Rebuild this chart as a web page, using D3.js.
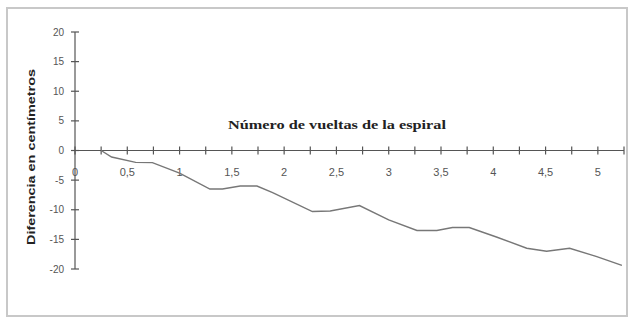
<!DOCTYPE html>
<html>
<head>
<meta charset="utf-8">
<script src="https://cdn.jsdelivr.net/npm/d3@7"></script>
<style>
  body { margin: 0; background: #fff; }
  svg { display: block; }
</style>
</head>
<body>
<svg id="chart" width="632" height="319"></svg>
<script>
// values
var vueltas = [0.25, 0.35, 0.58, 0.74, 1.0, 1.29, 1.41, 1.58, 1.74, 1.89, 2.27, 2.44, 2.72,
               3.0, 3.27, 3.46, 3.61, 3.77, 4.03, 4.32, 4.51, 4.73, 4.99, 5.23];
var diferencia = [0, -1.1, -2.0, -2.05, -3.8, -6.5, -6.5, -6.0, -6.0, -7.1, -10.3, -10.2, -9.3,
                  -11.7, -13.5, -13.5, -13.0, -13.0, -14.6, -16.5, -17.0, -16.5, -17.9, -19.4];
var yTicks = [20, 15, 10, 5, 0, -5, -10, -15, -20];
var xTicks = [0, 0.25, 0.5, 0.75, 1, 1.25, 1.5, 1.75, 2, 2.25, 2.5, 2.75, 3, 3.25, 3.5, 3.75,
              4, 4.25, 4.5, 4.75, 5, 5.25];
var xLabels = [0, 0.5, 1, 1.5, 2, 2.5, 3, 3.5, 4, 4.5, 5];
var titleX = 'Número de vueltas de la espiral',
    titleY = 'Diferencia en centímetros';

var svg = d3.select('#chart');
var fmt = function(d){ return String(d).replace('.', ','); };

// outer frame
svg.append('rect')
  .attr('x', 7).attr('y', 8)
  .attr('width', 620).attr('height', 308)
  .attr('fill', 'none')
  .attr('stroke', '#c8c8c8')
  .attr('stroke-width', 2);

var x = d3.scaleLinear().domain([0, 5.25]).range([75, 624]);
var y = d3.scaleLinear().domain([-20, 20]).range([269, 32]);

// y axis
var yAxis = svg.append('g').attr('class', 'y-axis');
yAxis.append('line')
  .attr('x1', x(0)).attr('x2', x(0))
  .attr('y1', y(20)).attr('y2', y(-20))
  .attr('stroke', '#555').attr('stroke-width', 1.2);
yAxis.selectAll('.tick').data(yTicks).enter()
  .append('line')
  .attr('x1', x(0) - 4).attr('x2', x(0) + 4)
  .attr('y1', function(d){ return y(d); })
  .attr('y2', function(d){ return y(d); })
  .attr('stroke', '#555').attr('stroke-width', 1.2);
yAxis.selectAll('.lbl').data(yTicks).enter()
  .append('text')
  .attr('x', 64)
  .attr('y', function(d){ return y(d); })
  .attr('dy', '0.35em')
  .attr('text-anchor', 'end')
  .style('font-family', 'Liberation Sans, Arial, sans-serif')
  .style('font-size', '10px')
  .style('fill', '#555')
  .text(function(d){ return d; });

// x axis
var xAxis = svg.append('g').attr('class', 'x-axis');
xAxis.append('line')
  .attr('x1', x(0)).attr('x2', x(5.25))
  .attr('y1', y(0)).attr('y2', y(0))
  .attr('stroke', '#555').attr('stroke-width', 1.2);
xAxis.selectAll('.tick').data(xTicks).enter()
  .append('line')
  .attr('x1', function(d){ return x(d); })
  .attr('x2', function(d){ return x(d); })
  .attr('y1', y(0) - 4).attr('y2', y(0) + 4)
  .attr('stroke', '#555').attr('stroke-width', 1.2);
xAxis.selectAll('.lbl').data(xLabels).enter()
  .append('text')
  .attr('x', function(d){ return x(d); })
  .attr('y', y(0) + 25)
  .attr('text-anchor', 'middle')
  .style('font-family', 'Liberation Sans, Arial, sans-serif')
  .style('font-size', '11px')
  .style('fill', '#555')
  .text(fmt);

// series
var pts = vueltas.map(function(v, i){ return [v, diferencia[i]]; });
svg.append('path')
  .datum(pts)
  .attr('fill', 'none')
  .attr('stroke', '#777')
  .attr('stroke-width', 1.4)
  .attr('d', d3.line()
    .x(function(d){ return x(d[0]); })
    .y(function(d){ return y(d[1]); }));

// titles
svg.append('text')
  .attr('x', 337).attr('y', 129)
  .attr('text-anchor', 'middle')
  .attr('textLength', 218)
  .attr('lengthAdjust', 'spacingAndGlyphs')
  .style('font-family', 'Liberation Serif, Times New Roman, serif')
  .style('font-weight', 'bold')
  .style('font-size', '12px')
  .style('fill', '#222')
  .text(titleX);

svg.append('text')
  .attr('transform', 'translate(35,157) rotate(-90)')
  .attr('text-anchor', 'middle')
  .attr('textLength', 176)
  .attr('lengthAdjust', 'spacingAndGlyphs')
  .style('font-family', 'Liberation Sans, Arial, sans-serif')
  .style('font-weight', 'bold')
  .style('font-size', '11px')
  .style('fill', '#222')
  .text(titleY);
</script>
</body>
</html>
